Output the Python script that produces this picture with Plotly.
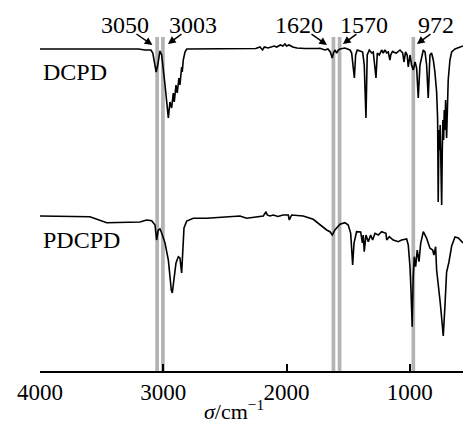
import plotly.graph_objects as go

# ---- data (wavenumber in cm^-1, stacked transmittance in arbitrary units) ----
dcpd_wn = [4000, 3800, 3600, 3400, 3200, 3150, 3100, 3085, 3070, 3058, 3045, 3035, 3027, 3013,
           3000, 2986, 2972, 2959, 2946, 2932, 2919, 2911, 2897, 2887, 2873, 2865, 2851, 2846,
           2838, 2824, 2810, 2700, 2600, 2400, 2250, 2216, 2195, 2180, 2150, 2100, 2080, 2050,
           2030, 2013, 2000, 1980, 1950, 1916, 1850, 1750, 1729, 1689, 1665, 1645, 1630, 1620,
           1608, 1594, 1580, 1567, 1527, 1486, 1472, 1459, 1450, 1440, 1427, 1405, 1383, 1370,
           1356, 1346, 1329, 1310, 1297, 1283, 1275, 1264, 1248, 1229, 1216, 1202, 1188, 1175,
           1162, 1155, 1140, 1135, 1110, 1080, 1058, 1048, 1035, 1022, 1013, 999, 986, 972,
           958, 945, 932, 918, 904, 891, 877, 864, 851, 837, 824, 810, 797, 783, 775, 770,
           764, 758, 754, 748, 742, 737, 732, 726, 721, 715, 710, 702, 695, 689, 675, 661,
           634, 610, 569]
dcpd_t = [322, 322, 322, 322, 322, 321, 321, 318, 308, 299, 306, 316, 320, 316,
          303, 286, 269, 253, 269, 263, 278, 269, 286, 278, 293, 286, 304, 299,
          311, 319, 322, 322, 322.5, 322, 322.5, 324, 321, 324, 323, 325, 324, 326,
          325, 327, 325, 326, 324, 323, 322.5, 322.5, 322.7, 321, 322, 319, 313, 318,
          321, 318, 321, 322, 323, 321, 318, 303, 293, 316, 321, 320, 319, 306,
          253, 316, 321, 318, 319, 303, 293, 318, 316, 321, 318, 321, 318, 319,
          311, 316, 320, 319, 318, 321, 318, 309, 319, 316, 304, 316, 306, 301,
          309, 303, 273, 306, 316, 321, 319, 306, 273, 316, 318, 311, 299, 279, 253, 169,
          241, 221, 246, 211, 166, 221, 251, 231, 261, 241, 271, 233, 276, 291, 311, 319,
          322, 323, 325]

pdcpd_wn = [4000, 3800, 3595, 3459, 3297, 3189, 3135, 3094, 3067, 3054, 3041, 3027, 3013, 2986,
            2959, 2946, 2935, 2927, 2913, 2897, 2878, 2865, 2851, 2843, 2832, 2810, 2757, 2648,
            2459, 2378, 2324, 2189, 2167, 2157, 2135, 2108, 2070, 2029, 1986, 1978, 1959, 1865,
            1784, 1729, 1675, 1648, 1629, 1608, 1567, 1527, 1500, 1480, 1464, 1453, 1432, 1399,
            1385, 1378, 1370, 1356, 1337, 1318, 1302, 1283, 1256, 1229, 1194, 1188, 1167, 1135,
            1094, 1067, 1026, 1013, 999, 991, 981, 973, 964, 953, 940, 926, 912, 891,
            864, 837, 815, 805, 791, 783, 770, 756, 748, 729, 715, 702, 683, 661,
            634, 607, 569]
pdcpd_t = [155, 155, 154.3, 148.3, 148.3, 149, 151, 150.3, 146, 131, 141, 142, 138, 128,
           111, 91, 81, 78, 91, 108, 114.3, 113, 98, 113, 143, 150, 152.7, 152.7,
           154.3, 155, 152.7, 155, 159.3, 156, 155, 156, 154.5, 156, 156, 151, 156, 155,
           151.7, 146, 141, 139.3, 136, 141, 146.7, 148.3, 146, 137.7, 106, 128, 139.3, 139,
           128, 136, 119.3, 136, 129.3, 136, 131, 137.7, 136, 139.3, 137.7, 131, 134.3, 131,
           129.3, 131, 132, 126, 104.3, 81, 44.3, 94.3, 114.3, 104.3, 121, 109.3, 127.7, 139.3,
           132.7, 122.7, 121, 116, 124.3, 101, 83, 71, 61, 35, 66, 99, 109, 125,
           134, 133, 128]

band_centers = [3050, 3003, 1620, 1570, 972]
band_labels = ["3050", "3003", "1620", "1570", "972"]
tick_vals = [4000, 3000, 2000, 1000]
series_names = ["DCPD", "PDCPD"]

FONT = "Liberation Serif"

fig = go.Figure()
fig.add_trace(go.Scatter(x=dcpd_wn, y=dcpd_t, mode="lines", name=series_names[0],
                         line=dict(color="black", width=1.6), showlegend=False))
fig.add_trace(go.Scatter(x=pdcpd_wn, y=pdcpd_t, mode="lines", name=series_names[1],
                         line=dict(color="black", width=1.6), showlegend=False))

# grey marker bands
for c in band_centers:
    fig.add_shape(type="rect", xref="x", yref="y", x0=c + 15, x1=c - 15, y0=0, y1=334,
                  fillcolor="#b3b3b3", line=dict(width=0), layer="below")

# labels and arrows
label_x = [3311, 2759, 1900, 1376, 792]
arrow_tail = [(3230, 338), (2840, 338), (1810, 338), (1421, 338), (821, 338)]
arrow_tip = [(3088, 326), (2962, 327), (1672, 326), (1543, 327), (943, 327)]
for lab, lx, (tx, ty), (hx, hy) in zip(band_labels, label_x, arrow_tail, arrow_tip):
    fig.add_annotation(x=lx, y=346, xref="x", yref="y", text=lab, showarrow=False,
                       font=dict(family=FONT, size=24, color="black"))
    fig.add_annotation(x=hx, y=hy, ax=tx, ay=ty, xref="x", yref="y", axref="x", ayref="y",
                       text="", showarrow=True, arrowhead=2, arrowsize=1.1, arrowwidth=1.4,
                       arrowcolor="black")

fig.add_annotation(x=3992, y=299, xref="x", yref="y", text=series_names[0], showarrow=False,
                   xanchor="left", font=dict(family=FONT, size=24, color="black"))
fig.add_annotation(x=3992, y=131, xref="x", yref="y", text=series_names[1], showarrow=False,
                   xanchor="left", font=dict(family=FONT, size=24, color="black"))

fig.add_annotation(x=2427, y=-0.146, xref="x", yref="paper", yanchor="bottom",
                   text="<i>σ</i>/cm<sup>−1</sup>", showarrow=False, borderpad=0,
                   font=dict(family=FONT, size=22, color="black"))

fig.update_layout(
    width=463, height=426,
    margin=dict(l=40, r=0, t=0, b=55),
    paper_bgcolor="white", plot_bgcolor="white",
    xaxis=dict(range=[4000, 569], tickvals=tick_vals, ticktext=[str(v) for v in tick_vals],
               ticks="inside", ticklen=7, tickwidth=1.5, tickcolor="black",
               showline=True, linecolor="black", linewidth=1.6, showgrid=False, zeroline=False,
               tickfont=dict(family=FONT, size=23, color="black")),
    yaxis=dict(range=[0, 371], visible=False, showgrid=False, zeroline=False),
)

fig.write_html("out.html", config={"displayModeBar": False},
               post_script="document.body.style.margin='0';document.body.style.overflow='hidden';")
